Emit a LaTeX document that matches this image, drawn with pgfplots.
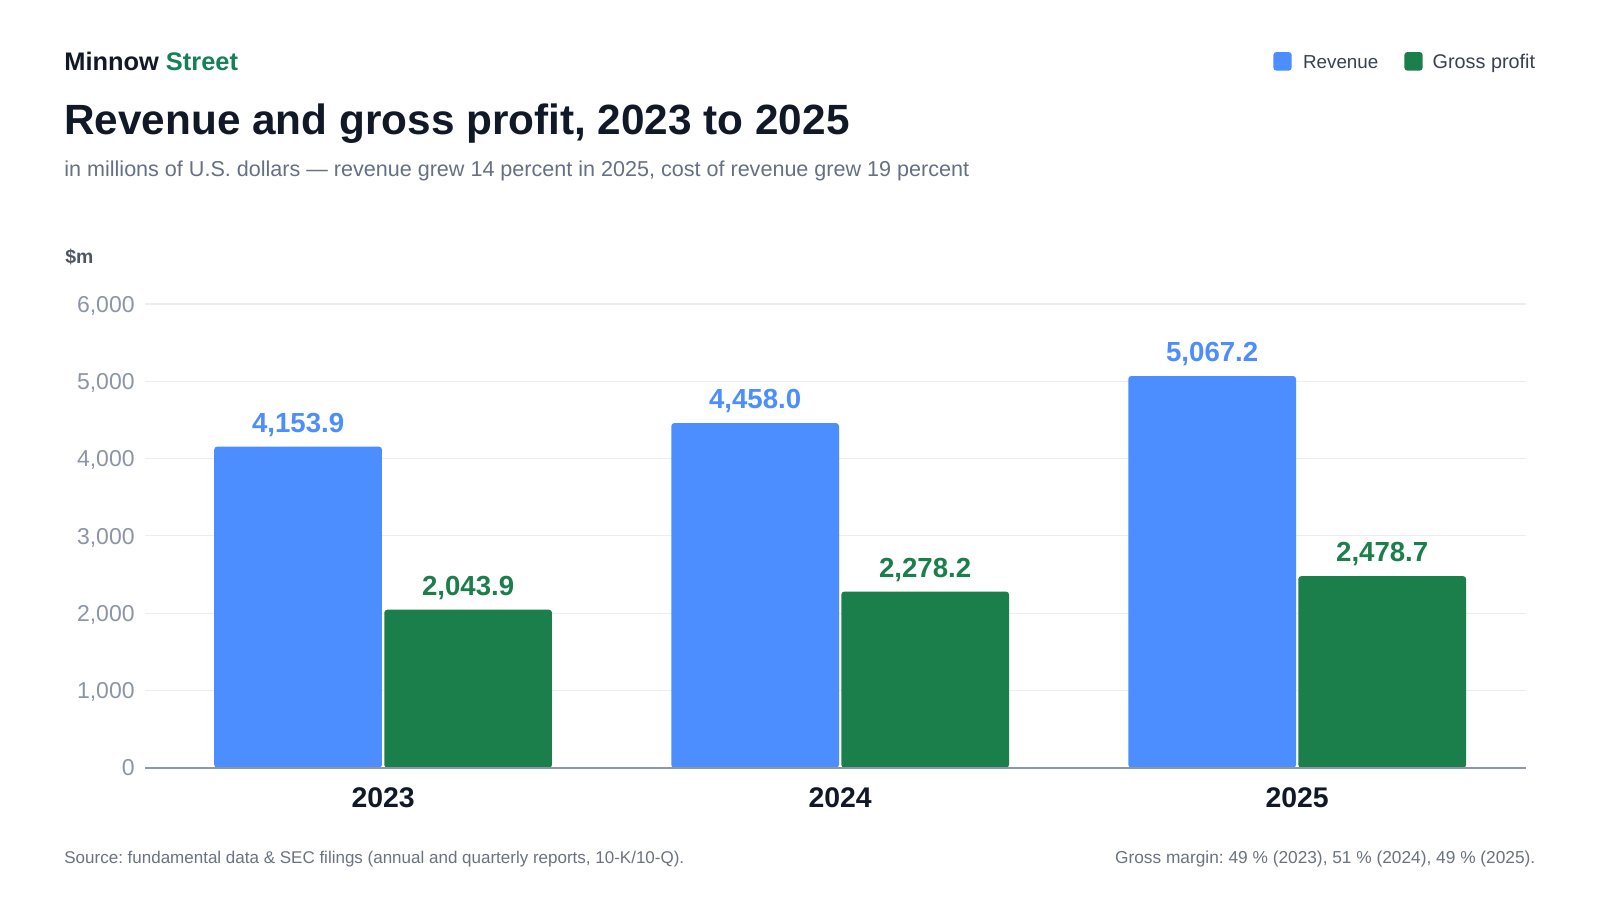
\documentclass[border=0pt]{standalone}
\usepackage{pgfplots}
\pgfplotsset{compat=1.18}
\usepackage{fontspec}
\setmainfont{Liberation Sans}
\frenchspacing
\definecolor{titleC}{HTML}{111827}
\definecolor{brandG}{HTML}{168157}
\definecolor{subC}{HTML}{667085}
\definecolor{tickC}{HTML}{8C95A6}
\definecolor{axisC}{HTML}{8E97A8}
\definecolor{gridC}{HTML}{EBEDF1}
\definecolor{blueC}{HTML}{4C8DFF}
\definecolor{greenC}{HTML}{1B7F4C}
\definecolor{legC}{HTML}{374151}
\definecolor{dollarC}{HTML}{4B5563}
\definecolor{footC}{HTML}{6B7280}
\begin{document}
\begin{tikzpicture}[x=0.5pt,y=-0.5pt]
\fill[white] (0,0) rectangle (1600,900);
\node[anchor=base west, inner sep=0, font=\fontsize{12.7}{15}\selectfont\bfseries] at (64,70.7) {\textcolor{titleC}{Minnow} \textcolor{brandG}{Street}};
\node[anchor=base west, inner sep=0, font=\fontsize{21.15}{25}\selectfont\bfseries, text=titleC] at (64,134) {Revenue and gross profit, 2023 to 2025};
\node[anchor=base west, inner sep=0, font=\fontsize{10.78}{13}\selectfont, text=subC] at (64,176.7) {in millions of U.S. dollars — revenue grew 14 percent in 2025, cost of revenue grew 19 percent};
\node[anchor=base west, inner sep=0, font=\fontsize{9.7}{11}\selectfont\bfseries, text=dollarC] at (65,263.3) {\$m};
\fill[blueC, rounded corners=1.6pt] (1273.3,52) rectangle (1291.7,70.7);
\node[anchor=base west, inner sep=0, font=\fontsize{9.4}{11}\selectfont, text=legC] at (1302.7,68.3) {Revenue};
\fill[greenC, rounded corners=1.6pt] (1404.3,52) rectangle (1422.7,70.7);
\node[anchor=base west, inner sep=0, font=\fontsize{9.9}{11}\selectfont, text=legC] at (1432.3,68.3) {Gross profit};
\node[anchor=base west, inner sep=0, font=\fontsize{8.5}{10}\selectfont, text=footC] at (64,863) {Source: fundamental data \& SEC filings (annual and quarterly reports, 10-K/10-Q).};
\node[anchor=base east, inner sep=0, font=\fontsize{8.65}{10}\selectfont, text=footC] at (1535.7,863) {Gross margin: 49 \% (2023), 51 \% (2024), 49 \% (2025).};
\begin{axis}[at={(72.5pt,-383.85pt)}, anchor=south west, scale only axis,
  width=690.35pt, height=231.9pt,
  xmin=-0.521, xmax=2.5, ymin=0, ymax=6000,
  axis line style={draw=none},
  ytick={0,1000,2000,3000,4000,5000,6000},
  ymajorgrids, grid style={gridC, line width=0.6pt},
  major tick length=0pt,
  xtick={0,1,2}, xticklabels={2023,2024,2025},
  yticklabel style={font=\fontsize{11.5}{13}\selectfont, text=tickC, anchor=base east, inner sep=0pt, xshift=-5pt, yshift=-4.1pt},
  xticklabel style={font=\fontsize{14.2}{16}\selectfont\bfseries, text=titleC, anchor=base, inner sep=0pt, yshift=-20pt},
  /pgf/number format/assume math mode=true, /pgf/number format/1000 sep={,}, scaled y ticks=false,
  ybar, bar width=0.367,
  nodes near coords, point meta=explicit symbolic,
  nodes near coords style={font=\fontsize{13.8}{15}\selectfont\bfseries, anchor=base, inner sep=0pt, yshift=7.3pt},
  clip=false,
]
\addplot[fill=blueC, draw=none, bar shift=-0.186, rounded corners=1.5pt, nodes near coords style={text=blueC}] coordinates {(0,4153.9)[4,153.9] (1,4458.0)[4,458.0] (2,5067.2)[5,067.2]};
\addplot[fill=greenC, draw=none, bar shift=0.186, rounded corners=1.5pt, nodes near coords style={text=greenC}] coordinates {(0,2043.9)[2,043.9] (1,2278.2)[2,278.2] (2,2478.7)[2,478.7]};
\draw[axisC, line width=0.85pt] (rel axis cs:0,0) -- (rel axis cs:1,0);
\end{axis}
\pgfresetboundingbox
\path[use as bounding box] (0,0) rectangle (1600,900);
\end{tikzpicture}
\end{document}
